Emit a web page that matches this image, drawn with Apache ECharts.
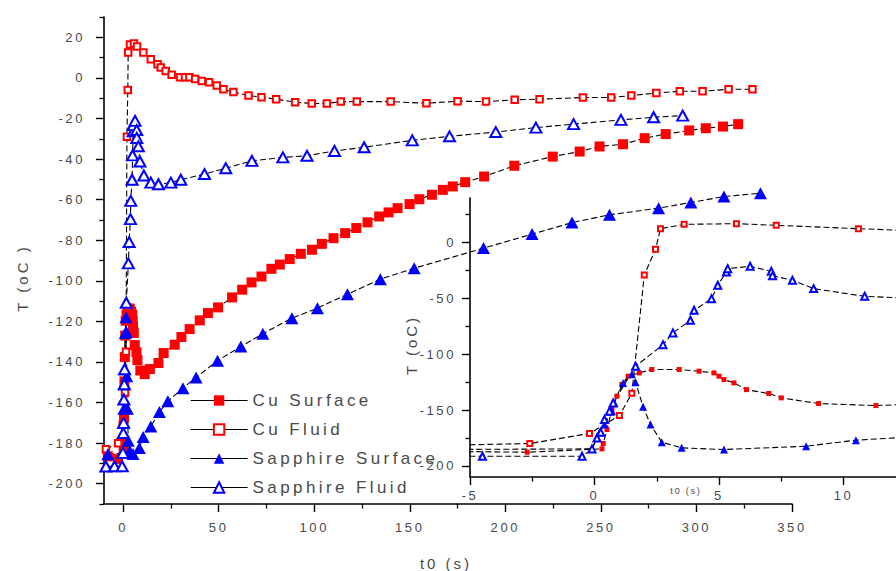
<!DOCTYPE html>
<html>
<head>
<meta charset="utf-8">
<script src="https://cdn.jsdelivr.net/npm/echarts@6/dist/echarts.min.js"></script>
<style>
  html, body { margin: 0; padding: 0; background: #fff; }
  #chart { width: 896px; height: 571px; }
  #chart text { letter-spacing: 0.2em; }
</style>
</head>
<body>
<div id="chart"></div>
<script>
// Quench curves: time t0 (s) against temperature T (oC) for each probe
const seriesNames = ['Cu Surface', 'Cu Fluid', 'Sapphire Surface', 'Sapphire Fluid'];

const cuSurfaceTime = [-8, -2.7, 0.3, 0.35, 0.5, 0.7, 0.9, 1.1, 1.35, 1.8, 2.3, 3.4, 4.2, 4.8, 5.0, 5.2, 5.6, 6.1, 7.0, 7.5, 9.0, 11.3, 14, 18.5, 21.2, 27, 30.5, 34.8, 40.1, 44.4, 49.7, 57, 62.3, 67.2, 72.4, 77.6, 82, 87.2, 93, 98.8, 104, 110.1, 116.2, 122, 127.9, 134, 138.9, 143.6, 149.9, 155, 161.6, 167.3, 172.5, 179, 188.9, 204.7, 224.8, 238.9, 249.3, 261.6, 272.9, 283.9, 296.2, 304.9, 313.9, 321.8];
const cuSurfaceTemp = [-186.5, -187.8, -184.8, -180, -167.5, -149.6, -137.6, -127, -119.7, -116.7, -113.7, -113.7, -115.2, -116.7, -119.7, -122.7, -125.7, -131.7, -135.2, -139.1, -144.2, -146, -143.5, -140.5, -135.6, -131.5, -127.7, -123.8, -119.5, -115.9, -113.1, -108.2, -104.4, -100.8, -97.9, -94.1, -92, -89.3, -86.7, -84.7, -81.8, -79, -76.5, -74, -71.2, -68.3, -66.3, -64.2, -62.2, -59.8, -57.6, -55.2, -53.5, -51.4, -48.6, -43.3, -38.8, -36.3, -33.8, -32.7, -29.7, -27.7, -25.9, -24.8, -24, -22.8];

const cuFluidTime = [-9, -2.6, -0.2, 1.0, 1.5, 2.0, 2.45, 2.65, 3.6, 5.7, 7.3, 10.6, 14.5, 18, 19.7, 22.3, 25.4, 29.8, 32.4, 34.7, 37.7, 41.2, 45, 49, 52.5, 57.7, 65.6, 72.4, 80.1, 90, 98.7, 106.6, 113.9, 122.3, 140, 158.7, 175, 189.9, 204.9, 217.9, 240.6, 255.4, 265.9, 279, 291.3, 303.2, 316.8, 329.3];
const cuFluidTemp = [-183, -180, -171, -155, -135, -29, -6, 12.5, 16.4, 17, 15.5, 12.5, 9.2, 6.7, 5.1, 3.4, 1.5, 0.3, 0.3, 0.3, -0.5, -1.6, -2.1, -3.8, -5.6, -7, -8.7, -9.5, -10.5, -12, -12.6, -12.6, -11.7, -11.7, -11.7, -12.5, -11.5, -11.7, -10.8, -10.5, -9.7, -9.7, -8.7, -7.5, -6.6, -6.6, -5.6, -5.6];

const sapphireSurfaceTime = [-8, -0.1, 0.1, 0.2, 0.4, 0.7, 0.8, 1.15, 1.5, 1.65, 1.95, 2.25, 2.7, 3.5, 5.2, 8.5, 10.5, 14.5, 19, 23.4, 31.3, 38.2, 49.4, 61.6, 73.1, 88.3, 101.7, 117.4, 134.6, 152.3, 188.6, 214, 234.9, 254.5, 280.2, 297.1, 314.4, 333.5];
const sapphireSurfaceTemp = [-185.5, -184.8, -175, -170, -163, -151, -143.6, -125.7, -118, -125, -147, -163, -178.8, -183.9, -185.4, -182.4, -177, -171.8, -164.7, -159.4, -152.9, -147.6, -139.4, -132.4, -126.1, -118.4, -113.5, -106.6, -99.2, -93.8, -83.9, -77, -71.3, -67.5, -64.2, -61.4, -58.5, -56.8];

const sapphireFluidTime = [-9, -4.5, -0.5, -0.1, 0.1, 0.25, 0.4, 0.6, 0.75, 1.65, 2.75, 3.15, 3.85, 4.0, 4.7, 4.95, 5.3, 5.35, 6.25, 7.1, 7.15, 7.95, 8.8, 10.85, 14.5, 18.5, 25, 30.2, 42.6, 53.7, 67.4, 83.6, 96.2, 110.6, 126.1, 151.3, 170.8, 195, 216, 235.7, 260.5, 277.6, 292.8];
const sapphireFluidTemp = [-191.5, -191.4, -191.4, -184.8, -175, -170, -158.5, -151, -143.6, -110.8, -91.4, -80.9, -69.6, -60.6, -50.2, -38.2, -26.3, -23.3, -21.2, -25.7, -29.6, -33.7, -41.2, -48.1, -51.6, -52.4, -51.6, -50.2, -47.4, -44.5, -40.9, -39.2, -38.4, -36, -34.2, -30.8, -28.8, -26.7, -24.5, -22.8, -20.7, -19.4, -18.6];

// Tick positions of the main plot and of the inset close-up
const xMajorTicks = [0, 50, 100, 150, 200, 250, 300, 350];
const xMinorTicks = [25, 75, 125, 175, 225, 275, 325];
const yMajorTicks = [-200, -180, -160, -140, -120, -100, -80, -60, -40, -20, 0, 20];
const yMinorTicks = [-210, -190, -170, -150, -130, -110, -90, -70, -50, -30, -10, 10, 30];
const insetXLabels = [-5, 0, 5, 10];
const insetXMajorTicks = [-5, 0, 5, 10, 15];
const insetXMinorTicks = [-2.5, 2.5, 7.5, 12.5];
const insetYMajorTicks = [-200, -150, -100, -50, 0];
const insetYMinorTicks = [-175, -125, -75, -25, 25];

const FONT = '"Liberation Sans", Arial, sans-serif';
const TEXT = '#4a4a4a';

function pairs(ts, vs) { return ts.map((t, i) => [t, vs[i]]); }

const dataSets = [
  pairs(cuSurfaceTime, cuSurfaceTemp),
  pairs(cuFluidTime, cuFluidTemp),
  pairs(sapphireSurfaceTime, sapphireSurfaceTemp),
  pairs(sapphireFluidTime, sapphireFluidTemp)
];

const markerStyles = [
  { symbol: 'rect', color: '#ff0000', main: 10, inset: 5, border: 0 },
  { symbol: 'emptyRect', color: '#ff0000', main: 6.5, inset: 5, border: 1.3 },
  { symbol: 'triangle', color: '#0000ff', main: [13, 12], inset: [8, 8], border: 0 },
  { symbol: 'emptyTriangle', color: '#0000ff', main: [11, 10], inset: [7, 7], border: 1.3 }
];

function makeSeries(idx, xAxisIndex, yAxisIndex, sizeKey, lineWidth) {
  const m = markerStyles[idx];
  return {
    type: 'line',
    name: seriesNames[idx],
    xAxisIndex, yAxisIndex,
    data: dataSets[idx],
    symbol: m.symbol,
    symbolSize: m[sizeKey],
    showSymbol: true,
    showAllSymbol: true,
    clip: true,
    itemStyle: { color: m.color, borderColor: m.color, borderWidth: m.border },
    lineStyle: { color: '#000', width: lineWidth, type: [6, 3] },
    emphasis: { disabled: true }
  };
}

function majorAxis(kind, gridIndex, min, max, ticks, labels, margin) {
  return {
    type: 'value', gridIndex, min, max,
    position: kind === 'x' ? 'bottom' : 'left',
    axisLine: { show: true, onZero: false, lineStyle: { color: '#000', width: 1.6 } },
    axisTick: { show: true, customValues: ticks, length: 8, lineStyle: { color: '#000', width: 1.4 } },
    axisLabel: { show: true, customValues: labels, margin, color: TEXT, fontSize: 13, fontFamily: FONT },
    splitLine: { show: false }
  };
}

function minorAxis(kind, gridIndex, min, max, ticks) {
  return {
    type: 'value', gridIndex, min, max,
    position: kind === 'x' ? 'bottom' : 'left',
    axisLine: { show: false, onZero: false },
    axisTick: { show: true, customValues: ticks, length: 4.5, lineStyle: { color: '#000', width: 1.3 } },
    axisLabel: { show: false },
    splitLine: { show: false }
  };
}

const chart = echarts.init(document.getElementById('chart'), null, { renderer: 'svg', width: 896, height: 571 });

const series = [];
for (let i = 0; i < 4; i++) series.push(makeSeries(i, 0, 0, 'main', 1.1));
for (let i = 0; i < 4; i++) series.push(makeSeries(i, 2, 2, 'inset', 1.1));

chart.setOption({
  animation: false,
  backgroundColor: '#fff',
  grid: [
    { left: 104, right: 104, top: 17, bottom: 67, containLabel: false, outerBoundsMode: 'none' },
    { left: 470, right: -72, top: 198, bottom: 94, containLabel: false, outerBoundsMode: 'none' }
  ],
  xAxis: [
    majorAxis('x', 0, -10, 350, xMajorTicks, xMajorTicks, 17),
    minorAxis('x', 0, -10, 350, xMinorTicks),
    majorAxis('x', 1, -5, 15, insetXMajorTicks, insetXLabels, 12),
    minorAxis('x', 1, -5, 15, insetXMinorTicks)
  ],
  yAxis: [
    majorAxis('y', 0, -210, 30, yMajorTicks, yMajorTicks, 19),
    minorAxis('y', 0, -210, 30, yMinorTicks),
    majorAxis('y', 1, -210, 40, insetYMajorTicks, insetYMajorTicks, 14),
    minorAxis('y', 1, -210, 40, insetYMinorTicks)
  ],
  legend: {
    orient: 'vertical',
    left: 185,
    top: 387,
    itemWidth: 57,
    itemHeight: 13,
    itemGap: 12,
    data: seriesNames,
    selectedMode: false,
    textStyle: { fontSize: 17, color: TEXT, fontFamily: FONT },
    lineStyle: { type: 'solid', width: 1.2, color: '#000' }
  },
  graphic: [
    { type: 'text', x: 22, y: 278, rotation: Math.PI / 2,
      style: { text: 'T (oC )', font: '15px ' + FONT, fill: TEXT, align: 'center', verticalAlign: 'middle' } },
    { type: 'text', x: 446, y: 563,
      style: { text: 't0 (s)', font: '15px ' + FONT, fill: TEXT, align: 'center', verticalAlign: 'middle' } },
    { type: 'text', x: 411, y: 345, rotation: Math.PI / 2,
      style: { text: 'T (oC)', font: '15px ' + FONT, fill: TEXT, align: 'center', verticalAlign: 'middle' } },
    { type: 'text', x: 686, y: 491,
      style: { text: 't0 (s)', font: '9px ' + FONT, fill: TEXT, align: 'center', verticalAlign: 'middle' } }
  ],
  series
});
</script>
</body>
</html>
